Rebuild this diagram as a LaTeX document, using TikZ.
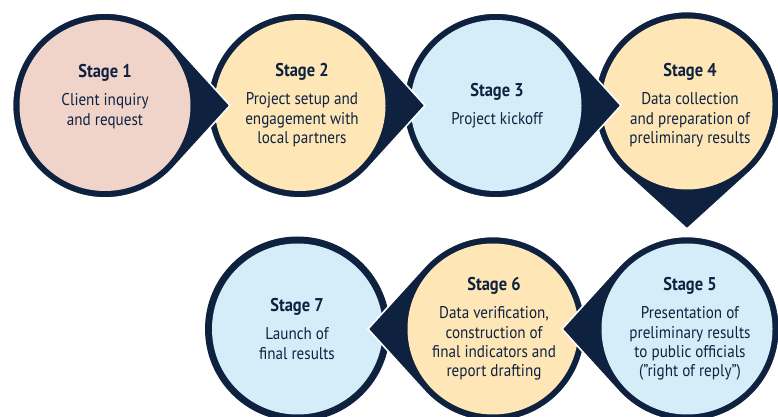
\documentclass[tikz,border=0pt]{standalone}
\usepackage{fontspec}
\setmainfont[FakeStretch=0.89]{PT Sans}
\usetikzlibrary{calc}
\definecolor{navy}{HTML}{0E2240}
\definecolor{pinkf}{HTML}{F0D4CA}
\definecolor{yellowf}{HTML}{FEE6B6}
\definecolor{bluef}{HTML}{D4EDF9}
\newcommand\dropshape[4]{%
  \fill[navy, draw=white, line width=1.6pt] ($(#1pt,#2pt)+(#3:125pt)$) -- ($(#1pt,#2pt)+(#3+42.27:92.5pt)$) arc[start angle=#3+42.27, delta angle=275.46, radius=92.5pt] -- cycle;
  \fill[#4] (#1pt,#2pt) circle[radius=85.5pt];
}
\newcommand\plainbubble[3]{%
  \fill[navy] (#1pt,#2pt) circle[radius=92.5pt];
  \fill[#3] (#1pt,#2pt) circle[radius=85.5pt];
}
\tikzset{
  stagetxt/.style={anchor=base, inner sep=0pt, text=navy,
    font=\fontsize{17}{19.3}\selectfont}
}
\newcommand\stagebody[2]{\setlength\tabcolsep{0pt}\begin{tabular}[t]{c}{\fontsize{18.5}{19.3}\selectfont\bfseries #1}\\[8.7pt]#2\end{tabular}}
\begin{document}
\begin{tikzpicture}[x=1pt,y=1pt]
\useasboundingbox (0,0) rectangle (778,417);
\plainbubble{297.5}{88}{bluef}
\dropshape{493}{88}{180}{yellowf}
\dropshape{687}{88}{180}{bluef}
\dropshape{687}{313}{-90}{yellowf}
\dropshape{496}{311.5}{0}{bluef}
\dropshape{300}{311.5}{0}{yellowf}
\dropshape{105}{311.5}{0}{pinkf}
\node[stagetxt] (s1) at (105,339) {\stagebody{Stage 1}{Client inquiry\\and request}};
\node[stagetxt] (s2) at (302,340) {\stagebody{Stage 2}{Project setup and\\engagement with\\local partners}};
\node[stagetxt] (s3) at (497,320) {\stagebody{Stage 3}{Project kickoff}};
\node[stagetxt] (s4) at (690,340) {\stagebody{Stage 4}{Data collection\\and preparation of\\preliminary results}};
\node[stagetxt] (s5) at (690,126) {\stagebody{Stage 5}{Presentation of\\preliminary results\\to public officials\\(”right of reply”)}};
\node[stagetxt] (s6) at (494,126) {\stagebody{Stage 6}{Data verification,\\construction of\\final indicators and\\report drafting}};
\node[stagetxt] (s7) at (297,105) {\stagebody{Stage 7}{Launch of\\final results}};
\end{tikzpicture}
\end{document}
